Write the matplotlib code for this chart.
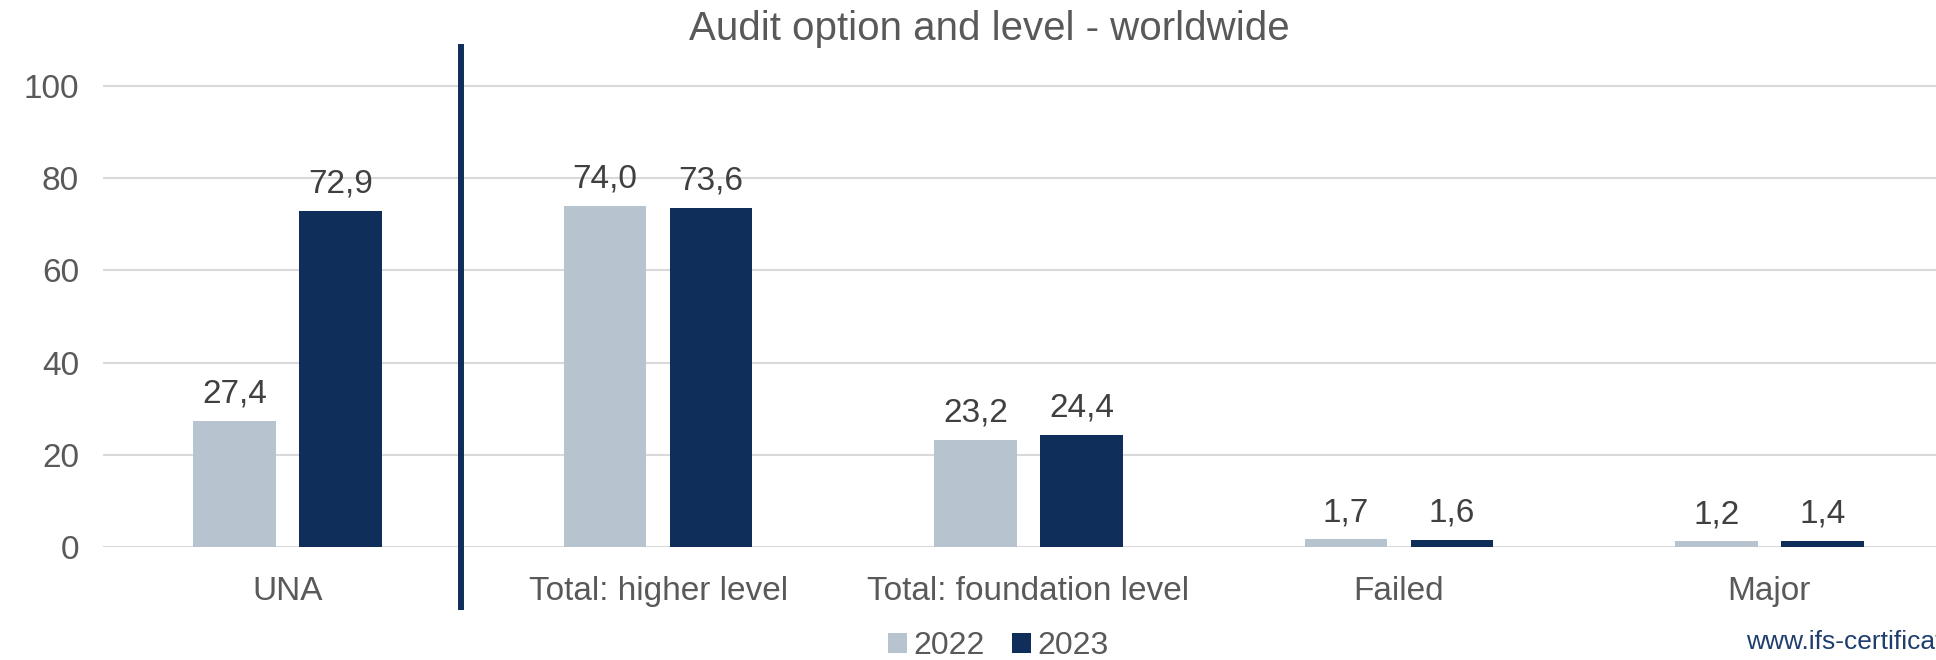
import matplotlib
matplotlib.use("Agg")
import matplotlib.pyplot as plt
import numpy as np

categories = ["UNA", "Total: higher level", "Total: foundation level", "Failed", "Major"]
values_2022 = [27.4, 74.0, 23.2, 1.7, 1.2]
values_2023 = [72.9, 73.6, 24.4, 1.6, 1.4]
series_labels = ["2022", "2023"]
yticks = [0, 20, 40, 60, 80, 100]
title = "Audit option and level - worldwide"
source = "www.ifs-certification.com"

c2022 = "#B7C3CF"
c2023 = "#102E5A"
tcol = "#595959"

plt.rcParams['font.family'] = ['Liberation Sans', 'DejaVu Sans']

fig = plt.figure(figsize=(19.36, 6.6), dpi=100)
ax = fig.add_axes([102.5 / 1936, 113 / 660, 1852 / 1936, 507 / 660])

x = np.arange(len(categories))
w = 0.223
off = 0.143
b1 = ax.bar(x - off, values_2022, w, color=c2022, label=series_labels[0], zorder=3)
b2 = ax.bar(x + off, values_2023, w, color=c2023, label=series_labels[1], zorder=3)

for bars, vals in ((b1, values_2022), (b2, values_2023)):
    for r, v in zip(bars, vals):
        ax.annotate(f"{v:.1f}".replace(".", ","), (r.get_x() + r.get_width() / 2, v),
                    xytext=(0, 8), textcoords="offset points", ha="center", va="bottom",
                    fontsize=24, color="#404040")

ax.set_xlim(-0.5, 4.5)
ax.set_ylim(0, 110)
ax.set_yticks(yticks)
ax.set_xticks(x)
ax.set_xticklabels(categories)
ax.tick_params(axis="y", length=0, pad=17, labelsize=24, labelcolor=tcol)
ax.tick_params(axis="x", length=0, pad=21, labelsize=24, labelcolor=tcol)
ax.grid(axis="y", color="#D9D9D9", linewidth=1.5, zorder=0)
for s in ax.spines.values():
    s.set_visible(False)

ax.axvline(0.467, ymin=-0.118, ymax=0.986, color=c2023, linewidth=4.3, clip_on=False, zorder=4)

fig.text(989 / 1936, 1 - 29 / 660, title, ha="center", va="center", fontsize=29, color=tcol)

leg = fig.legend(handles=[b1, b2], labels=series_labels, loc="center", bbox_to_anchor=(998 / 1936, 1 - 646 / 660),
                 ncol=2, frameon=False, fontsize=23, handlelength=0.6, handleheight=0.6,
                 handletextpad=0.2, columnspacing=0.85, borderaxespad=0, borderpad=0)
for t in leg.get_texts():
    t.set_color(tcol)

fig.text(1746 / 1936, 1 - 649 / 660, source, ha="left", va="baseline", fontsize=19, color="#1F3E6E")

fig.savefig("out.png", dpi=100)
